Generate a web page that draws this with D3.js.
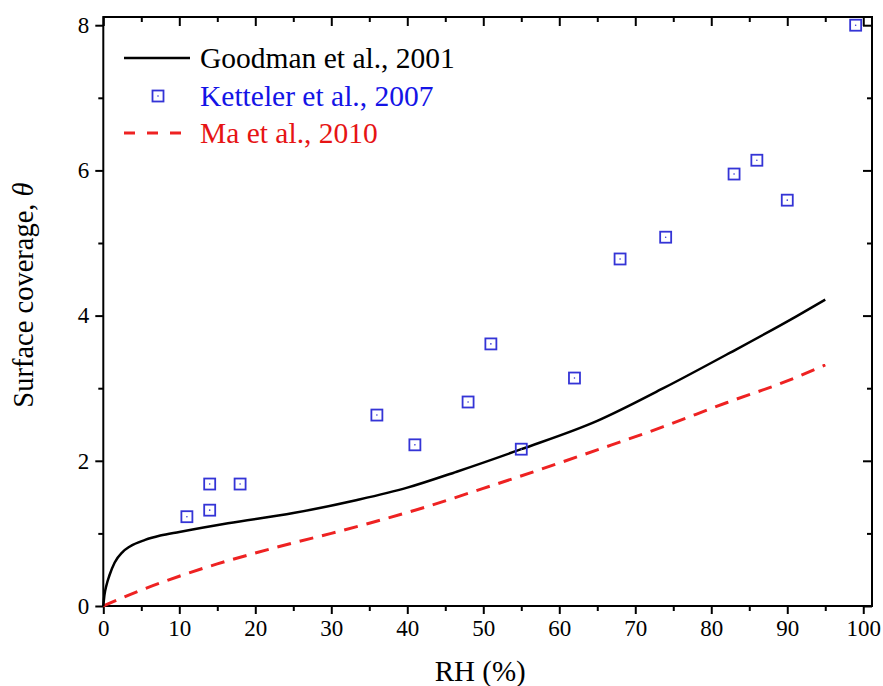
<!DOCTYPE html>
<html>
<head>
<meta charset="utf-8">
<script src="https://cdn.jsdelivr.net/npm/d3@7"></script>
<style>
  body { margin: 0; background: #fff; }
  text { font-family: "Liberation Serif", "Times New Roman", serif; }
</style>
</head>
<body>
<script>
// Goodman et al., 2001 (solid line)
var goodmanRH    = [0, 0.15, 0.4, 0.8, 1.5, 2.5, 3.5, 5.5, 7.5, 10, 16.4, 25, 33.4, 40, 46.5, 55, 65, 73.7, 82.5, 91.2, 95];
var goodmanTheta = [0, 0.15, 0.28, 0.42, 0.6, 0.74, 0.82, 0.91, 0.97, 1.02, 1.14, 1.28, 1.46, 1.63, 1.85, 2.16, 2.55, 3.0, 3.49, 3.99, 4.22];

// Ketteler et al., 2007 (squares)
var kettelerRH    = [11, 14, 14, 18, 36, 41, 48, 51, 55, 62, 68, 74, 83, 86, 90, 99];
var kettelerTheta = [1.23, 1.68, 1.32, 1.68, 2.63, 2.22, 2.81, 3.61, 2.16, 3.14, 4.78, 5.08, 5.95, 6.14, 5.59, 8.0];

// Ma et al., 2010 (dashed line)
var maRH    = [0, 5, 10, 15, 20, 25, 30, 35, 42, 50, 57.5, 65, 73.7, 82, 90, 95];
var maTheta = [0, 0.22, 0.41, 0.58, 0.73, 0.87, 1.0, 1.14, 1.35, 1.62, 1.88, 2.15, 2.47, 2.80, 3.10, 3.32];

var xMajor = d3.range(0, 101, 10);
var xMinor = d3.range(5, 100, 10);
var yMajor = [0, 2, 4, 6, 8];
var yMinor = [1, 3, 5, 7];

var legendLabels = ["Goodman et al., 2001", "Ketteler et al., 2007", "Ma et al., 2010"];

var margin = {top: 17, right: 11, bottom: 80, left: 103.3},
    width = 883 - margin.left - margin.right,
    height = 686 - margin.top - margin.bottom;

var serif = "'Liberation Serif', 'Times New Roman', serif";
var blue = "#3434d6", red = "#ee2222";

var x = d3.scaleLinear().domain([0, 101.15]).range([0, width]);
var y = d3.scaleLinear().domain([0, 8.113]).range([height, 0]);

var svg = d3.select("body").append("svg")
    .attr("width", 883)
    .attr("height", 686)
  .append("g")
    .attr("transform", "translate(" + margin.left + "," + margin.top + ")");

// axes: outward ticks bottom/left, inward ticks top/right
function styleAxis(g) {
  g.attr("font-family", serif);
  g.select(".domain").remove();
  g.selectAll(".tick line").attr("stroke", "#000").attr("stroke-width", 2);
  g.selectAll(".tick text")
      .style("font-family", serif)
      .style("font-size", "23px")
      .attr("fill", "#000");
}

svg.append("g")
    .attr("transform", "translate(0," + height + ")")
    .call(d3.axisBottom(x).tickValues(xMajor).tickSize(8).tickPadding(6).tickFormat(d3.format("d")))
    .call(styleAxis);
svg.append("g")
    .attr("transform", "translate(0," + height + ")")
    .call(d3.axisBottom(x).tickValues(xMinor).tickSize(5).tickFormat(""))
    .call(styleAxis);

svg.append("g")
    .call(d3.axisLeft(y).tickValues(yMajor).tickSize(8).tickPadding(6).tickFormat(d3.format("d")))
    .call(styleAxis);
svg.append("g")
    .call(d3.axisLeft(y).tickValues(yMinor).tickSize(5).tickFormat(""))
    .call(styleAxis);

svg.append("g")
    .call(d3.axisTop(x).tickValues(xMajor).tickSize(-9).tickFormat(""))
    .call(styleAxis);
svg.append("g")
    .call(d3.axisTop(x).tickValues(xMinor).tickSize(-5).tickFormat(""))
    .call(styleAxis);

svg.append("g")
    .attr("transform", "translate(" + width + ",0)")
    .call(d3.axisRight(y).tickValues(yMajor).tickSize(-9).tickFormat(""))
    .call(styleAxis);
svg.append("g")
    .attr("transform", "translate(" + width + ",0)")
    .call(d3.axisRight(y).tickValues(yMinor).tickSize(-5).tickFormat(""))
    .call(styleAxis);

// frame
svg.append("rect")
    .attr("width", width)
    .attr("height", height)
    .attr("fill", "none")
    .attr("stroke", "#000")
    .attr("stroke-width", 2);

// axis titles
svg.append("text")
    .attr("x", x(50) - 3)
    .attr("y", height + 75)
    .attr("text-anchor", "middle")
    .style("font-size", "29px")
    .text("RH (%)");

var yTitle = svg.append("text")
    .attr("transform", "translate(" + (33 - margin.left) + "," + (295 - margin.top) + ") rotate(-90)")
    .attr("text-anchor", "middle")
    .style("font-size", "28.5px")
    .text("Surface coverage, ");
yTitle.append("tspan").style("font-style", "italic").text("\u03b8");

// curves
var line = d3.line()
    .x(function(d) { return x(d[0]); })
    .y(function(d) { return y(d[1]); })
    .curve(d3.curveMonotoneX);

svg.append("path")
    .datum(d3.zip(maRH, maTheta))
    .attr("d", line)
    .attr("fill", "none")
    .attr("stroke", red)
    .attr("stroke-width", 3)
    .attr("stroke-dasharray", "14,9");

svg.append("path")
    .datum(d3.zip(goodmanRH, goodmanTheta))
    .attr("d", line)
    .attr("fill", "none")
    .attr("stroke", "#000")
    .attr("stroke-width", 2.5);

// square markers
function square(g, cx, cy) {
  g.append("rect")
      .attr("x", cx - 5.5).attr("y", cy - 5.5)
      .attr("width", 11).attr("height", 11)
      .attr("fill", "none")
      .attr("stroke", blue)
      .attr("stroke-width", 1.8);
  g.append("circle")
      .attr("cx", cx).attr("cy", cy).attr("r", 0.8)
      .attr("fill", blue);
}

var pts = svg.append("g");
d3.zip(kettelerRH, kettelerTheta).forEach(function(d) {
  square(pts, x(d[0]), y(d[1]));
});

// legend
var lg = svg.append("g").attr("transform", "translate(" + (-margin.left) + "," + (-margin.top) + ")");
lg.append("line")
    .attr("x1", 124).attr("x2", 190).attr("y1", 58).attr("y2", 58)
    .attr("stroke", "#000").attr("stroke-width", 2.5);
square(lg, 158, 96);
lg.append("line")
    .attr("x1", 124).attr("x2", 190).attr("y1", 133).attr("y2", 133)
    .attr("stroke", red).attr("stroke-width", 3)
    .attr("stroke-dasharray", "11,12");

var legendColors = ["#000", "#1414e6", "#e61414"];
var legendY = [68, 106, 143];
legendLabels.forEach(function(t, i) {
  lg.append("text")
      .attr("x", 200)
      .attr("y", legendY[i])
      .attr("fill", legendColors[i])
      .style("font-size", "29.5px")
      .text(t);
});
</script>
</body>
</html>
